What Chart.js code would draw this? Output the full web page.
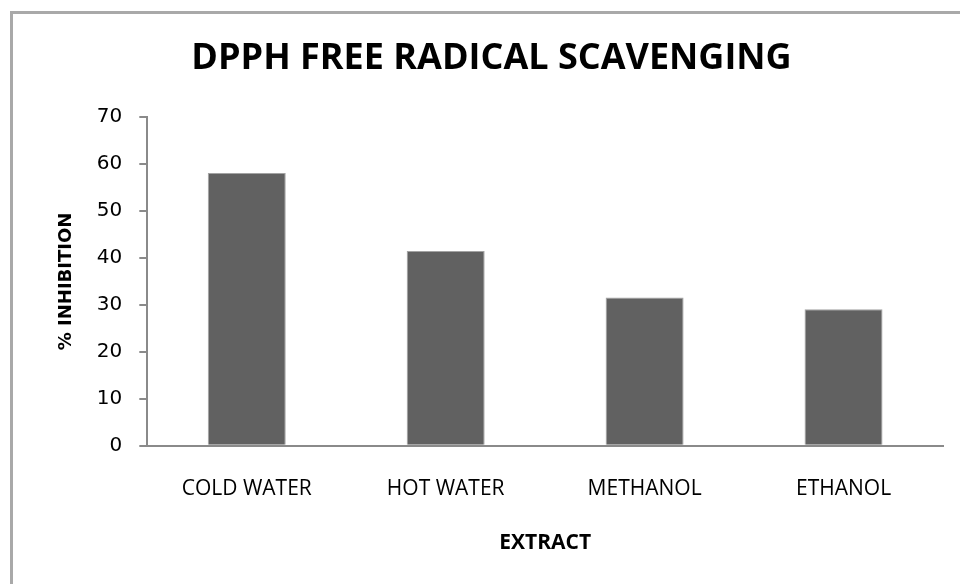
<!DOCTYPE html>
<html><head><meta charset="utf-8">
<script src="https://cdn.jsdelivr.net/npm/chart.js@4"></script>
<style>
html,body{margin:0;padding:0;background:#fff;}
#wrap{position:relative;width:960px;height:584px;overflow:hidden;}
#frame{position:absolute;left:10px;top:11px;width:1000px;height:700px;border-left:3px solid #a9a9a9;border-top:3px solid #a9a9a9;pointer-events:none;}
canvas{position:absolute;left:0;top:0;}
</style></head>
<body>
<div id="wrap"><canvas id="c" width="960" height="584"></canvas><div id="frame"></div></div>
<script>
const chartTitle = 'DPPH FREE RADICAL SCAVENGING';
const categories = ['COLD WATER', 'HOT WATER', 'METHANOL', 'ETHANOL'];
const inhibition = [58.1, 41.5, 31.6, 29.1];
const yTitle = '% INHIBITION';
const xTitle = 'EXTRACT';
const yMin = 0, yMax = 70, yStep = 10;

new Chart(document.getElementById('c'), {
  type: 'bar',
  data: {
    labels: categories,
    datasets: [{
      data: inhibition,
      backgroundColor: '#616161',
      borderColor: '#a3a3a3',
      borderWidth: 1,
      categoryPercentage: 1,
      barPercentage: 0.392
    }]
  },
  options: {
    responsive: false,
    animation: false,
    layout: { padding: { left: 40, right: 17, top: 0, bottom: 0 } },
    plugins: {
      legend: { display: false },
      tooltip: { enabled: false },
      title: {
        display: true,
        text: chartTitle,
        color: '#000',
        font: { family: '"Open Sans"', weight: 'bold', size: 36 },
        padding: { top: 37, bottom: 37 }
      }
    },
    scales: {
      x: {
        grid: { display: false, drawTicks: false },
        border: { display: true, color: '#8a8a8a', width: 2 },
        ticks: { color: '#000', font: { family: '"Open Sans"', size: 21 }, padding: 31, maxRotation: 0 },
        title: { display: true, text: xTitle, color: '#000', font: { family: '"Open Sans"', weight: 'bold', size: 21 }, padding: { top: 0, bottom: 28 } },
        afterFit: s => { s.height = 138.3; }
      },
      y: {
        min: yMin, max: yMax,
        ticks: { stepSize: yStep, color: '#000', font: { family: '"DejaVu Sans"', size: 20 }, padding: 17 },
        grid: { display: true, drawOnChartArea: false, drawTicks: true, tickLength: 8, color: '#8a8a8a', lineWidth: 2 },
        border: { display: true, color: '#8a8a8a', width: 2 },
        title: { display: true, text: yTitle, color: '#000', font: { family: '"DejaVu Sans"', weight: 'bold', size: 18 }, padding: { top: 16, bottom: 0 } },
        afterFit: s => { s.width = 107.3; }
      }
    }
  }
});
</script>
</body></html>
